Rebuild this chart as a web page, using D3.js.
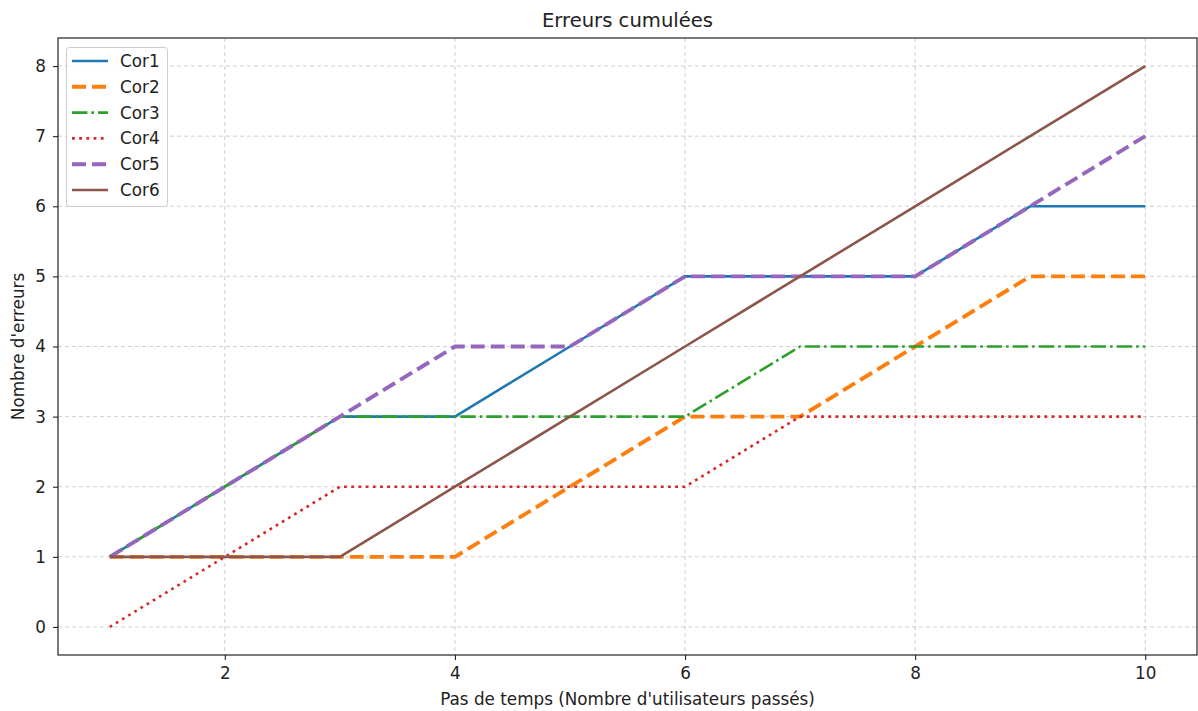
<!DOCTYPE html>
<html><head><meta charset="utf-8">
<script src="https://cdn.jsdelivr.net/npm/d3@7"></script>
<style>body{margin:0;background:#fff;} svg{display:block;font-family:"DejaVu Sans",sans-serif;}</style>
</head><body>
<svg id="c" width="1198" height="711"></svg>
<script>
const steps = [1,2,3,4,5,6,7,8,9,10];
const cor1 = [1,2,3,3,4,5,5,5,6,6];
const cor2 = [1,1,1,1,2,3,3,4,5,5];
const cor3 = [1,2,3,3,3,3,4,4,4,4];
const cor4 = [0,1,2,2,2,2,3,3,3,3];
const cor5 = [1,2,3,4,4,5,5,5,6,7];
const cor6 = [1,1,1,2,3,4,5,6,7,8];
const seriesNames = ["Cor1","Cor2","Cor3","Cor4","Cor5","Cor6"];
const xTicks = [2,4,6,8,10];
const yTicks = [0,1,2,3,4,5,6,7,8];

const series = [
  {name:"Cor1", values:cor1, color:"#1f77b4", width:2.6, dash:null},
  {name:"Cor2", values:cor2, color:"#ff7f0e", width:3.9, dash:"14,6"},
  {name:"Cor3", values:cor3, color:"#2ca02c", width:2.6, dash:"15.4,4,2.6,4"},
  {name:"Cor4", values:cor4, color:"#d62728", width:2.6, dash:"2.8,4.4"},
  {name:"Cor5", values:cor5, color:"#9467bd", width:3.9, dash:"14,6"},
  {name:"Cor6", values:cor6, color:"#8c564b", width:2.6, dash:null}
];

const svg = d3.select("#c");
const L=58, R=1197, T=38, B=655;
const x = d3.scaleLinear().domain([0.55,10.45]).range([L,R]);
const y = d3.scaleLinear().domain([-0.4,8.4]).range([B,T]);

// grid
const grid = svg.append("g");
grid.selectAll(".gx").data(xTicks).enter().append("line")
  .attr("x1",d=>x(d)).attr("x2",d=>x(d)).attr("y1",T).attr("y2",B)
  .attr("stroke","#b0b0b0").attr("stroke-opacity",0.6).attr("stroke-width",1).attr("stroke-dasharray","4,3");
grid.selectAll(".gy").data(yTicks).enter().append("line")
  .attr("y1",d=>y(d)).attr("y2",d=>y(d)).attr("x1",L).attr("x2",R)
  .attr("stroke","#b0b0b0").attr("stroke-opacity",0.6).attr("stroke-width",1).attr("stroke-dasharray","4,3");

// lines
const line = d3.line().x((d,i)=>x(steps[i])).y(d=>y(d));
const lg = svg.append("g");
series.forEach(s=>{
  lg.append("path").attr("d",line(s.values)).attr("fill","none")
    .attr("stroke",s.color).attr("stroke-width",s.width)
    .attr("stroke-dasharray",s.dash).attr("stroke-linejoin","round").attr("stroke-linecap","butt");
});

// axes
const xa = svg.append("g").attr("transform",`translate(0,${B})`)
  .call(d3.axisBottom(x).tickValues(xTicks).tickSize(5).tickPadding(7.5));
const ya = svg.append("g").attr("transform",`translate(${L},0)`)
  .call(d3.axisLeft(y).tickValues(yTicks).tickSize(5).tickPadding(7));
[xa,ya].forEach(a=>{
  a.select(".domain").remove();
  a.selectAll("text").attr("font-size",16.8).attr("fill","#222").attr("font-family","DejaVu Sans, sans-serif");
  a.selectAll("line").attr("stroke","#222").attr("stroke-width",1.1);
});
svg.append("rect").attr("x",L).attr("y",T).attr("width",R-L).attr("height",B-T)
  .attr("fill","none").attr("stroke","#222").attr("stroke-width",1.2);

// title and labels
svg.append("text").attr("x",(L+R)/2).attr("y",27).attr("text-anchor","middle")
  .attr("font-size",19.6).attr("fill","#222").text("Erreurs cumulées");
svg.append("text").attr("x",(L+R)/2).attr("y",705).attr("text-anchor","middle")
  .attr("font-size",16.8).attr("fill","#222").text("Pas de temps (Nombre d'utilisateurs passés)");
svg.append("text").attr("transform",`translate(24,${(T+B)/2}) rotate(-90)`).attr("text-anchor","middle")
  .attr("font-size",16.8).attr("fill","#222").text("Nombre d'erreurs");

// legend
const leg = svg.append("g");
leg.append("rect").attr("x",66.5).attr("y",47.5).attr("width",101).attr("height",159).attr("rx",3)
  .attr("fill","#fff").attr("fill-opacity",0.8).attr("stroke","#ccc").attr("stroke-width",1);
series.forEach((s,i)=>{
  const yy = 61 + i*25.8;
  leg.append("line").attr("x1",72).attr("x2",108).attr("y1",yy).attr("y2",yy)
    .attr("stroke",s.color).attr("stroke-width",s.width).attr("stroke-dasharray",s.dash);
  leg.append("text").attr("x",120).attr("y",yy+6).attr("font-size",16.8).attr("fill","#222").text(seriesNames[i]);
});
</script>
</body></html>
